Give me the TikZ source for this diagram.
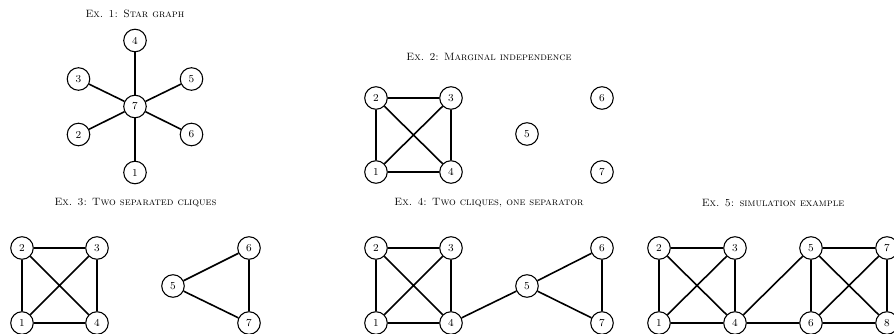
\documentclass[tikz,border=0pt]{standalone}
\begin{document}
\begin{tikzpicture}[x=0.7537pt,y=-0.7537pt,
  vtx/.style={circle,draw,thick,minimum size=17pt,inner sep=0pt,font=\footnotesize},
  edge/.style={very thick},
  ttl/.style={font=\footnotesize\scshape}]
\useasboundingbox (0,0) rectangle (894,334);
\clip (0,0) rectangle (894,334);
% Ex 1
\node[ttl] (t1) at (135,14) {Ex. 1: Star graph};
\node[vtx] (a7) at (135,106.5) {7};
\node[vtx] (a4) at (135,40.5) {4};
\node[vtx] (a3) at (78.5,79) {3};
\node[vtx] (a5) at (191.5,79) {5};
\node[vtx] (a2) at (78.5,134.5) {2};
\node[vtx] (a6) at (191.5,134.5) {6};
\node[vtx] (a1) at (135,172.5) {1};
\foreach \n in {1,...,6} \draw[edge] (a7) -- (a\n);
% Ex 2
\node[ttl] (t2) at (489,57) {Ex. 2: Marginal independence};
\node[vtx] (b2) at (376,98) {2};
\node[vtx] (b3) at (451,98) {3};
\node[vtx] (b1) at (376,172) {1};
\node[vtx] (b4) at (451,172) {4};
\node[vtx] (b5) at (527,134) {5};
\node[vtx] (b6) at (602,98) {6};
\node[vtx] (b7) at (602,172) {7};
\draw[edge] (b1) -- (b2) (b2) -- (b3) (b3) -- (b4) (b4) -- (b1) (b1) -- (b3) (b2) -- (b4);
% Ex 3
\node[ttl] (t3) at (135.5,203) {Ex. 3: Two separated cliques};
\node[vtx] (c2) at (22,248) {2};
\node[vtx] (c3) at (97,248) {3};
\node[vtx] (c1) at (22,323) {1};
\node[vtx] (c4) at (97,323) {4};
\node[vtx] (c5) at (173,286) {5};
\node[vtx] (c6) at (249,248) {6};
\node[vtx] (c7) at (249,323) {7};
\draw[edge] (c1) -- (c2) (c2) -- (c3) (c3) -- (c4) (c4) -- (c1) (c1) -- (c3) (c2) -- (c4);
\draw[edge] (c5) -- (c6) (c6) -- (c7) (c7) -- (c5);
% Ex 4
\node[ttl] (t4) at (489,203) {Ex. 4: Two cliques, one separator};
\node[vtx] (d2) at (376,248) {2};
\node[vtx] (d3) at (451,248) {3};
\node[vtx] (d1) at (376,323) {1};
\node[vtx] (d4) at (451,323) {4};
\node[vtx] (d5) at (527,286) {5};
\node[vtx] (d6) at (602,248) {6};
\node[vtx] (d7) at (602,323) {7};
\draw[edge] (d1) -- (d2) (d2) -- (d3) (d3) -- (d4) (d4) -- (d1) (d1) -- (d3) (d2) -- (d4);
\draw[edge] (d4) -- (d5) (d5) -- (d6) (d6) -- (d7) (d7) -- (d5);
% Ex 5
\node[ttl] (t5) at (773,203) {Ex. 5: simulation example};
\node[vtx] (e2) at (659,248) {2};
\node[vtx] (e3) at (735,248) {3};
\node[vtx] (e1) at (659,323) {1};
\node[vtx] (e4) at (735,323) {4};
\node[vtx] (e5) at (811,248) {5};
\node[vtx] (e6) at (811,323) {6};
\node[vtx] (e7) at (887,248) {7};
\node[vtx] (e8) at (887,323) {8};
\draw[edge] (e1) -- (e2) (e2) -- (e3) (e3) -- (e4) (e4) -- (e1) (e1) -- (e3) (e2) -- (e4);
\draw[edge] (e4) -- (e5) (e4) -- (e6);
\draw[edge] (e5) -- (e6) (e5) -- (e7) (e7) -- (e8) (e8) -- (e6) (e5) -- (e8) (e6) -- (e7);
\end{tikzpicture}
\end{document}
